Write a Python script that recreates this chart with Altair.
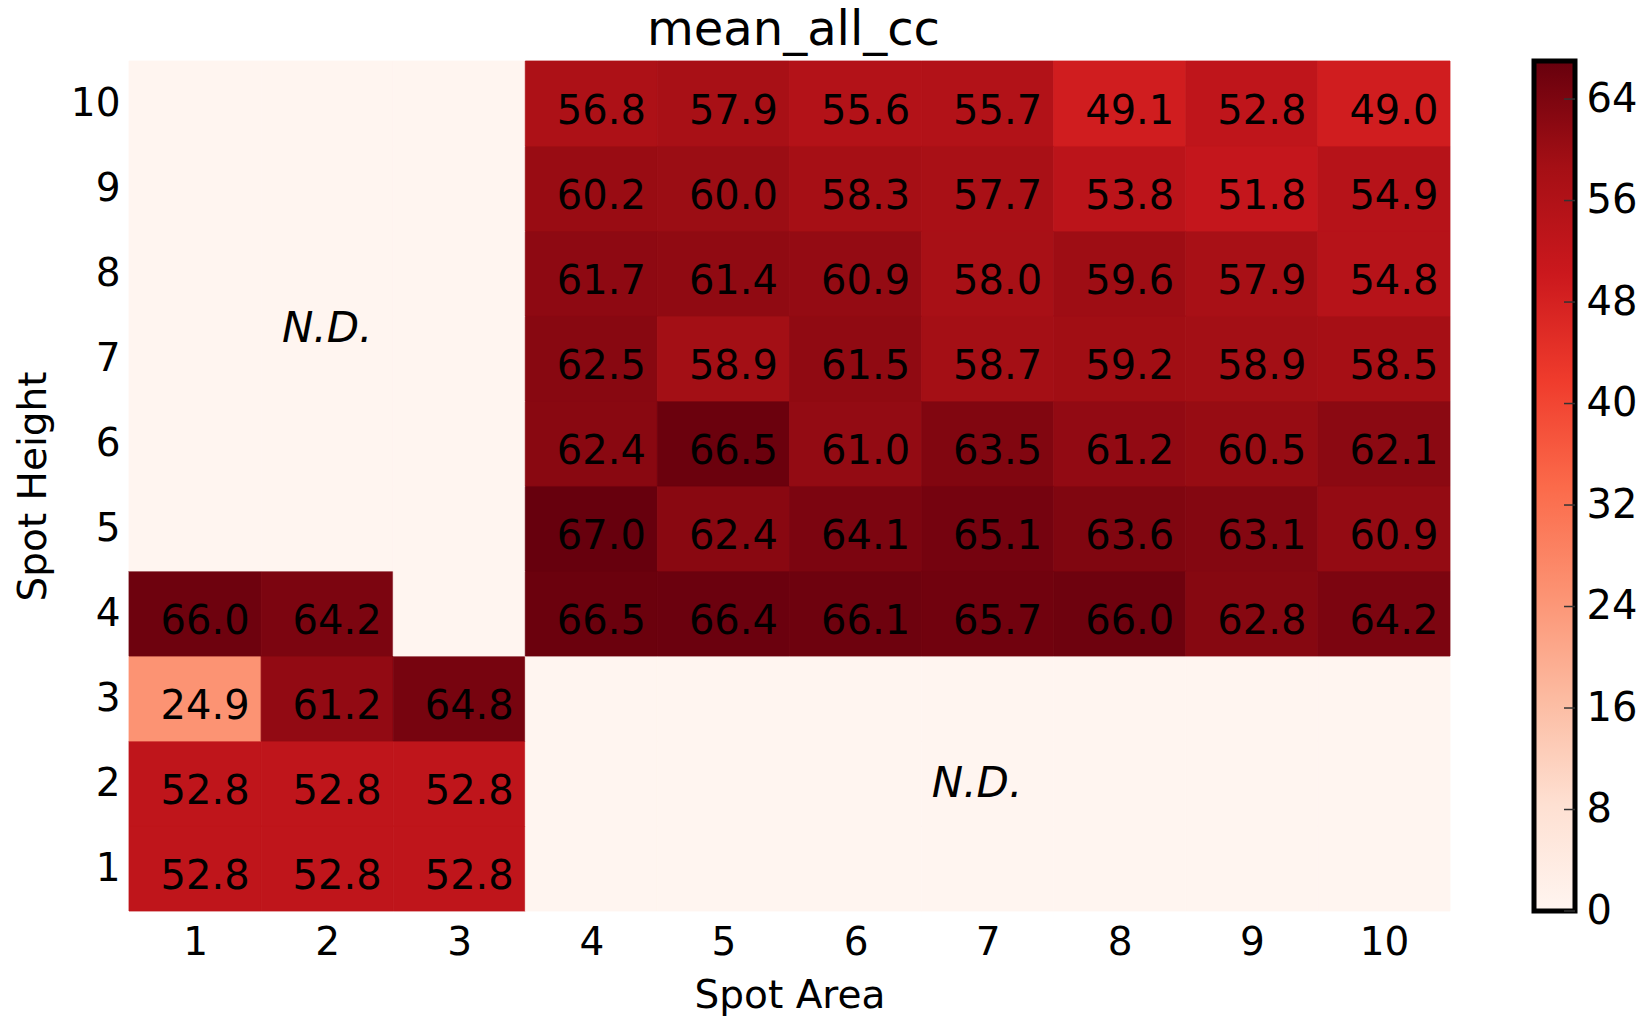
import altair as alt
import pandas as pd

# Grid axes
spot_area = [1, 2, 3, 4, 5, 6, 7, 8, 9, 10]
spot_height = [1, 2, 3, 4, 5, 6, 7, 8, 9, 10]

# mean_all_cc for each spot height, listed by spot area 1..10 (None = not determined)
cc_h10 = [None, None, None, 56.8, 57.9, 55.6, 55.7, 49.1, 52.8, 49.0]
cc_h9 = [None, None, None, 60.2, 60.0, 58.3, 57.7, 53.8, 51.8, 54.9]
cc_h8 = [None, None, None, 61.7, 61.4, 60.9, 58.0, 59.6, 57.9, 54.8]
cc_h7 = [None, None, None, 62.5, 58.9, 61.5, 58.7, 59.2, 58.9, 58.5]
cc_h6 = [None, None, None, 62.4, 66.5, 61.0, 63.5, 61.2, 60.5, 62.1]
cc_h5 = [None, None, None, 67.0, 62.4, 64.1, 65.1, 63.6, 63.1, 60.9]
cc_h4 = [66.0, 64.2, None, 66.5, 66.4, 66.1, 65.7, 66.0, 62.8, 64.2]
cc_h3 = [24.9, 61.2, 64.8, None, None, None, None, None, None, None]
cc_h2 = [52.8, 52.8, 52.8, None, None, None, None, None, None, None]
cc_h1 = [52.8, 52.8, 52.8, None, None, None, None, None, None, None]
cc_rows = [cc_h1, cc_h2, cc_h3, cc_h4, cc_h5, cc_h6, cc_h7, cc_h8, cc_h9, cc_h10]

# "not determined" region labels
nd_text = ["N.D.", "N.D."]
nd_area = [2.0, 6.92]
nd_height = [7.35, 2.0]

# colour bar
cbar_max = 67.0
cbar_ticks = [0, 8, 16, 24, 32, 40, 48, 56, 64]
reds = ["#fff5f0", "#fee0d2", "#fcbba1", "#fc9272", "#fb6a4a",
        "#ef3b2c", "#cb181d", "#a50f15", "#67000d"]
reds_domain = [cbar_max * i / (len(reds) - 1) for i in range(len(reds))]

records = []
for h, row in zip(spot_height, cc_rows):
    for a, v in zip(spot_area, row):
        records.append({
            "area": a, "height": h,
            "a0": a - 0.5, "a1": a + 0.5, "h0": h - 0.5, "h1": h + 0.5,
            "cc": v, "shade": 0.0 if v is None else v,
        })
cells = pd.DataFrame(records)
nd = pd.DataFrame({"label": nd_text, "area": nd_area, "height": nd_height})

FONT = "DejaVu Sans"
WIDTH, HEIGHT = 1446, 850
CELL = 132.1                      # pixel width of one spot-area column
BAR_LEFT, BAR_RIGHT = 1405, 1446  # colour bar placement inside the view

color_scale = alt.Scale(domain=reds_domain, range=reds, interpolate="rgb")
x_scale = alt.Scale(domain=[0.5, 0.5 + WIDTH / CELL], nice=False, zero=False)
y_scale = alt.Scale(domain=[0.5, 10.5], nice=False, zero=False)
cbar_scale = alt.Scale(domain=[0, cbar_max], nice=False, zero=False)

rects = alt.Chart(cells).mark_rect(strokeWidth=0.8).encode(
    x=alt.X("a0:Q", scale=x_scale,
            axis=alt.Axis(values=spot_area, format="d", title="Spot Area",
                          labelPadding=12, titlePadding=14,
                          titleAnchor="middle", titleX=CELL * 5)),
    x2="a1:Q",
    y=alt.Y("h0:Q", scale=y_scale,
            axis=alt.Axis(values=spot_height, format="d", title="Spot Height",
                          labelPadding=9, titlePadding=17)),
    y2="h1:Q",
    color=alt.Color("shade:Q", scale=color_scale, legend=None),
    stroke=alt.Stroke("shade:Q", scale=color_scale, legend=None),
)

values = alt.Chart(cells).transform_filter("datum.cc != null").mark_text(
    font=FONT, fontSize=40, color="black", dx=10, dy=8, baseline="middle"
).encode(
    x=alt.X("area:Q", scale=x_scale),
    y=alt.Y("height:Q", scale=y_scale),
    text=alt.Text("cc:Q", format=".1f"),
)

nd_marks = alt.Chart(nd).mark_text(
    font=FONT, fontSize=42, fontStyle="italic", color="black", baseline="middle"
).encode(
    x=alt.X("area:Q", scale=x_scale),
    y=alt.Y("height:Q", scale=y_scale),
    text="label:N",
)

heatmap = alt.layer(rects, values, nd_marks)

gradient = {
    "gradient": "linear", "x1": 0, "y1": 1, "x2": 0, "y2": 0,
    "stops": [{"offset": i / (len(reds) - 1), "color": c} for i, c in enumerate(reds)],
}

bar = alt.Chart(pd.DataFrame({"lo": [0.0], "hi": [cbar_max]})).mark_rect(
    fill=gradient, stroke="black", strokeWidth=5
).encode(
    y=alt.Y("lo:Q", scale=cbar_scale,
            axis=alt.Axis(orient="right", values=cbar_ticks, title=None,
                          labelFontSize=40, labelPadding=11)),
    y2="hi:Q",
    x=alt.value(BAR_LEFT),
    x2=alt.value(BAR_RIGHT),
)
bar_ticks = alt.Chart(pd.DataFrame({"t": cbar_ticks})).mark_rule(
    color="#333333", strokeWidth=1.5
).encode(
    y=alt.Y("t:Q", scale=cbar_scale),
    x=alt.value(BAR_RIGHT - 11),
    x2=alt.value(BAR_RIGHT),
)
colorbar = alt.layer(bar, bar_ticks)

chart = alt.layer(heatmap, colorbar).resolve_scale(y="independent").properties(
    width=WIDTH, height=HEIGHT,
    title=alt.TitleParams("mean_all_cc", fontSize=48, font=FONT, fontWeight="normal",
                          anchor="start", frame="group", dx=518,
                          baseline="bottom", offset=-44, color="black"),
    autosize=alt.AutoSizeParams(type="none"),
    padding={"left": 129, "top": 61, "right": 77, "bottom": 107},
    background="white",
).configure_view(strokeWidth=0).configure_axis(
    labelFont=FONT, titleFont=FONT, labelFontSize=39, titleFontSize=39,
    titleFontWeight="normal", labelColor="black", titleColor="black",
    domain=False, ticks=False, grid=False,
)

chart.save("out.html", embed_options={"renderer": "svg", "actions": False})
